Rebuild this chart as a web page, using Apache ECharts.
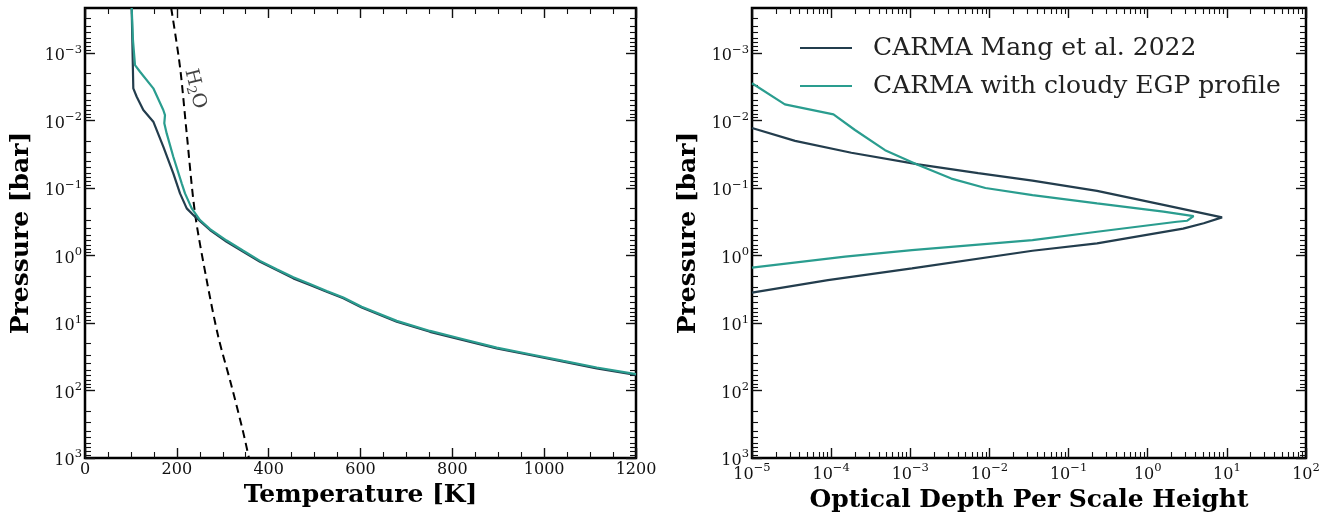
<!DOCTYPE html>
<html>
<head>
<meta charset="utf-8">
<script src="https://cdn.jsdelivr.net/npm/echarts@6/dist/echarts.min.js"></script>
<style>
  html, body { margin: 0; padding: 0; background: #fff; }
  #chart { width: 1333px; height: 512px; }
</style>
</head>
<body>
<div id="chart"></div>
<script>
// ---- Temperature / pressure profiles (left panel) ----
const tempMang = [101.7, 103.5, 105.2, 112.6, 127, 148.8, 170.5, 192.3, 206.9, 221.5, 239.6, 272.3, 308.6, 344.8, 381.2, 417.5, 453.7, 490, 526.4, 562.6, 602.6, 678.9, 751.4, 823.9, 896.6, 969.2, 1041.8, 1114.5, 1200];
const presMang = [2.15e-4, 9.1e-4, 3.34e-3, 4.44e-3, 6.98e-3, 0.0104, 0.0244, 0.0605, 0.12, 0.2, 0.266, 0.419, 0.625, 0.879, 1.24, 1.64, 2.18, 2.74, 3.44, 4.3, 5.9, 9.57, 13.5, 17.9, 23.7, 29.8, 37.4, 46.9, 58.9];

const tempEGP = [101.7, 104.5, 108.9, 119.8, 148.8, 170.5, 174.2, 172.7, 177.9, 192.3, 210.6, 217.8, 232.4, 250.5, 272.3, 308.6, 344.8, 381.2, 417.5, 453.7, 490, 526.4, 562.6, 602.6, 678.9, 751.4, 823.9, 896.6, 969.2, 1041.8, 1114.5, 1200];
const presEGP = [2.15e-4, 6.5e-4, 1.51e-3, 1.89e-3, 3.33e-3, 6.98e-3, 8.3e-3, 0.011, 0.0155, 0.0344, 0.0851, 0.12, 0.2, 0.298, 0.405, 0.6, 0.85, 1.2, 1.6, 2.1, 2.65, 3.35, 4.2, 5.75, 9.3, 13.1, 17.4, 23.1, 29, 36.4, 45.6, 57.2];

// H2O condensation curve
const tempH2O = [187.7, 206.9, 221.5, 239.6, 265, 290.3, 318, 344, 357];
const presH2O = [2.15e-4, 1.6e-3, 0.0155, 0.237, 2.31, 16, 80, 400, 1000];

// ---- Optical depth per scale height (right panel) ----
const tauMang = [1e-5, 3.5e-5, 1.8e-4, 1.26e-3, 7.2e-3, 0.035, 0.229, 1.58, 8.7, 5.1, 2.8, 0.229, 0.035, 1.05e-3, 9.1e-5, 1e-5];
const presTauMang = [0.0129, 0.02, 0.030, 0.0447, 0.060, 0.0776, 0.11, 0.178, 0.272, 0.333, 0.40, 0.66, 0.85, 1.55, 2.31, 3.55];

const tauEGP = [1e-5, 2.6e-5, 1.07e-4, 2e-4, 4.8e-4, 1.26e-3, 3.3e-3, 8.9e-3, 0.035, 0.229, 1.58, 3.8, 3.16, 2.34, 0.229, 0.035, 1.05e-3, 1.5e-4, 1e-5];
const presTauEGP = [2.8e-3, 5.75e-3, 8.1e-3, 0.0138, 0.0275, 0.0457, 0.0724, 0.1, 0.127, 0.169, 0.224, 0.26, 0.305, 0.316, 0.444, 0.59, 0.83, 1.04, 1.51];

// ---- Axis ticks ----
const pressureTicks = [1e-3, 1e-2, 1e-1, 1e0, 1e1, 1e2, 1e3];
const depthTicks = [1e-5, 1e-4, 1e-3, 1e-2, 1e-1, 1e0, 1e1, 1e2];
const pressureRange = [2.15e-4, 1e3];
const depthRange = [1e-5, 1e2];
const tempRange = [0, 1200];
const tempStep = 200;

const seriesNames = ['CARMA Mang et al. 2022', 'CARMA with cloudy EGP profile'];
const COLOR_MANG = '#233d4d';
const COLOR_EGP = '#2a9d8f';
const SERIF = "'DejaVu Serif', 'Liberation Serif', serif";
const INK = '#111';

// minor log ticks: 2..9 times each decade, kept inside the range
function minorLogTicks(range) {
  const out = [];
  const lo = Math.floor(Math.log10(range[0]));
  const hi = Math.ceil(Math.log10(range[1]));
  for (let e = lo; e < hi; e++) {
    for (let m = 2; m <= 9; m++) {
      const v = m * Math.pow(10, e);
      if (v >= range[0] && v <= range[1]) out.push(v);
    }
  }
  return out;
}

function powerLabel(v) {
  const e = Math.round(Math.log10(v));
  return '{b|10}{s|' + (e < 0 ? '\u2212' + (-e) : e) + '}';
}

const powerRich = {
  b: { fontFamily: SERIF, fontSize: 16, color: INK, padding: [6, 0, 0, 0] },
  s: { fontFamily: SERIF, fontSize: 11.5, color: INK, padding: [0, 0, 7, 0] }
};

const MAJOR_LEN = 10, MINOR_LEN = 6;

function logAxis(gridIndex, position, range, values, major, withLabels, extra) {
  const ax = {
    type: 'log',
    gridIndex: gridIndex,
    position: position,
    min: range[0],
    max: range[1],
    axisLine: { show: false },
    splitLine: { show: false },
    minorTick: { show: false },
    axisTick: {
      show: true,
      inside: true,
      customValues: values,
      length: major ? MAJOR_LEN : MINOR_LEN,
      lineStyle: { color: INK, width: major ? 1.4 : 1.1 }
    },
    axisLabel: withLabels ? {
      show: true,
      customValues: values,
      formatter: powerLabel,
      rich: powerRich,
      margin: 3
    } : { show: false }
  };
  return Object.assign(ax, extra || {});
}

function tempAxis(position, withLabels, extra) {
  const ax = {
    type: 'value',
    gridIndex: 0,
    position: position,
    min: tempRange[0],
    max: tempRange[1],
    interval: tempStep,
    axisLine: { show: false },
    splitLine: { show: false },
    axisTick: { show: true, inside: true, length: MAJOR_LEN, lineStyle: { color: INK, width: 1.4 } },
    minorTick: { show: true, splitNumber: 4, length: MINOR_LEN, lineStyle: { color: INK, width: 1.1 } },
    axisLabel: withLabels ? {
      show: true, fontFamily: SERIF, fontSize: 16, color: INK, margin: 4,
      formatter: v => String(v)
    } : { show: false }
  };
  return Object.assign(ax, extra || {});
}

const titleStyle = { fontFamily: SERIF, fontSize: 25, fontWeight: 'bold', color: '#000' };
const pressureMinor = minorLogTicks(pressureRange);
const depthMinor = minorLogTicks(depthRange);

const yInverse = { inverse: true };

const option = {
  animation: false,
  backgroundColor: '#fff',
  grid: [
    { left: 85, top: 8, width: 551, height: 450, show: true, borderColor: '#000', borderWidth: 2.5, backgroundColor: 'transparent', outerBoundsMode: 'none' },
    { left: 752, top: 8, width: 554, height: 450, show: true, borderColor: '#000', borderWidth: 2.5, backgroundColor: 'transparent', outerBoundsMode: 'none' }
  ],
  legend: {
    data: seriesNames,
    orient: 'vertical',
    left: 795,
    top: 30,
    icon: 'rect',
    itemWidth: 52,
    itemHeight: 2.2,
    itemGap: 12,
    textStyle: { fontFamily: SERIF, fontSize: 25, lineHeight: 26, color: '#222', padding: [0, 0, 0, 16] }
  },
  xAxis: [
    tempAxis('bottom', true, {
      name: 'Temperature [K]', nameLocation: 'middle', nameGap: 23, nameTextStyle: titleStyle
    }),
    tempAxis('top', false),
    logAxis(1, 'bottom', depthRange, depthTicks, true, true, {
      name: 'Optical Depth Per Scale Height', nameLocation: 'middle', nameGap: 23, nameTextStyle: titleStyle
    }),
    logAxis(1, 'bottom', depthRange, depthMinor, false, false),
    logAxis(1, 'top', depthRange, depthTicks, true, false),
    logAxis(1, 'top', depthRange, depthMinor, false, false)
  ],
  yAxis: [
    logAxis(0, 'left', pressureRange, pressureTicks, true, true, Object.assign({
      name: 'Pressure [bar]', nameLocation: 'middle', nameGap: 51, nameTextStyle: titleStyle
    }, yInverse)),
    logAxis(0, 'left', pressureRange, pressureMinor, false, false, yInverse),
    logAxis(0, 'right', pressureRange, pressureTicks, true, false, yInverse),
    logAxis(0, 'right', pressureRange, pressureMinor, false, false, yInverse),
    logAxis(1, 'left', pressureRange, pressureTicks, true, true, Object.assign({
      name: 'Pressure [bar]', nameLocation: 'middle', nameGap: 51, nameTextStyle: titleStyle
    }, yInverse)),
    logAxis(1, 'left', pressureRange, pressureMinor, false, false, yInverse),
    logAxis(1, 'right', pressureRange, pressureTicks, true, false, yInverse),
    logAxis(1, 'right', pressureRange, pressureMinor, false, false, yInverse)
  ],
  series: [
    {
      name: 'H2O',
      type: 'line',
      xAxisIndex: 0, yAxisIndex: 0,
      data: tempH2O.map((t, i) => [t, presH2O[i]]),
      symbol: 'none',
      smooth: 0.3,
      lineStyle: { color: '#000', width: 2, type: [8, 5] },
      silent: true,
      z: 3
    },
    {
      name: seriesNames[0],
      type: 'line',
      xAxisIndex: 0, yAxisIndex: 0,
      data: tempMang.map((t, i) => [t, presMang[i]]),
      symbol: 'none',
      color: COLOR_MANG,
      lineStyle: { color: COLOR_MANG, width: 2.2 },
      z: 4
    },
    {
      name: seriesNames[1],
      type: 'line',
      xAxisIndex: 0, yAxisIndex: 0,
      data: tempEGP.map((t, i) => [t, presEGP[i]]),
      symbol: 'none',
      color: COLOR_EGP,
      lineStyle: { color: COLOR_EGP, width: 2.2 },
      z: 5
    },
    {
      name: 'H2O label',
      type: 'scatter',
      xAxisIndex: 0, yAxisIndex: 0,
      data: [[239.6, 3.4e-3]],
      symbolSize: 1,
      itemStyle: { color: 'transparent' },
      silent: true,
      label: {
        show: true,
        position: 'inside',
        rotate: -76,
        formatter: 'H{sub|2}O',
        fontFamily: SERIF,
        fontSize: 19,
        color: INK,
        rich: {
          sub: { fontFamily: SERIF, fontSize: 13, color: INK, padding: [9, 0, 0, 0] }
        }
      },
      z: 6
    },
    {
      name: seriesNames[0],
      type: 'line',
      xAxisIndex: 2, yAxisIndex: 4,
      data: tauMang.map((t, i) => [t, presTauMang[i]]),
      symbol: 'none',
      color: COLOR_MANG,
      lineStyle: { color: COLOR_MANG, width: 2.2 },
      z: 4
    },
    {
      name: seriesNames[1],
      type: 'line',
      xAxisIndex: 2, yAxisIndex: 4,
      data: tauEGP.map((t, i) => [t, presTauEGP[i]]),
      symbol: 'none',
      color: COLOR_EGP,
      lineStyle: { color: COLOR_EGP, width: 2.2 },
      z: 5
    }
  ]
};

const chart = echarts.init(document.getElementById('chart'), null, { renderer: 'canvas' });
chart.setOption(option);
</script>
</body>
</html>
